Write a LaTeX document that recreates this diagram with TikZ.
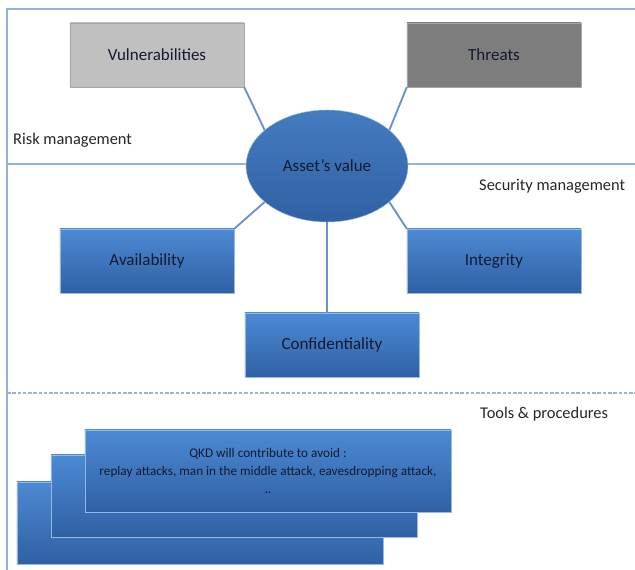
\documentclass[tikz,border=0pt]{standalone}
\usepackage{fontspec}
\setmainfont{Carlito}
\usepackage{xcolor}
\usetikzlibrary{shapes.geometric, shadows}

\definecolor{boxtop}{RGB}{76,138,212}
\definecolor{boxbot}{RGB}{48,96,164}
\definecolor{frameblue}{RGB}{149,179,215}
\definecolor{linkblue}{RGB}{104,146,204}
\definecolor{vulngray}{RGB}{192,192,192}
\definecolor{threatgray}{RGB}{125,125,125}
\definecolor{inktext}{RGB}{22,26,48}
\definecolor{sidetext}{RGB}{38,38,38}

\begin{document}
\begin{tikzpicture}[x=0.03cm, y=-0.03cm,
    block/.style={rectangle, draw=boxtop!60!white, top color=boxtop, bottom color=boxbot,
                  minimum width=5.22cm, minimum height=1.92cm, inner sep=0pt,
                  text=inktext, font=\fontsize{14.5}{16}\selectfont,
                  drop shadow={shadow xshift=0.6pt, shadow yshift=-1.2pt, opacity=0.25}},
    gblock/.style={block, draw=gray!70, top color=#1, bottom color=#1},
    stack/.style={block, minimum width=10.98cm, minimum height=2.46cm},
    asset/.style={ellipse, draw=boxtop!60!white, top color=boxtop!90!black, bottom color=boxbot,
                  minimum width=4.86cm, minimum height=3.36cm, inner sep=0pt,
                  text=inktext, font=\fontsize{14.5}{16}\selectfont},
    zone/.style={text=sidetext, font=\fontsize{14}{16}\selectfont, anchor=west, inner sep=0pt},
    frame/.style={frameblue, line width=1.4pt},
    link/.style={linkblue, line width=1.6pt},
]
\useasboundingbox (0,0) rectangle (635,570);
% frame and zones
\draw[frame] (7,570) -- (7,9) -- (635,9);
\draw[frame] (7,164) -- (635,164);
\draw[frame, dashed, dash pattern=on 3pt off 1.5pt] (7,393) -- (635,393);
\node[zone] (risk) at (13,140) {Risk management};
\node[zone] (secu) at (479,186) {Security management};
\node[zone] (tool) at (480,414) {Tools \& procedures};
% risk
\node[gblock=vulngray] (vul) at (157,55) {Vulnerabilities};
\node[gblock=threatgray] (thr) at (494,55) {Threats};
\node[asset] (val) at (327,166) {Asset's value};
% security
\node[block] (avl) at (147,261) {Availability};
\node[block] (itg) at (494,261) {Integrity};
\node[block] (cnf) at (332,345) {Confidentiality};
% tools
\node[stack] (st3) at (200,523) {};
\node[stack] (st2) at (234,496) {};
\node[stack, align=center, font=\fontsize{11.3}{15.5}\selectfont] (qkd) at (268,471)
    {QKD will contribute to avoid :\\replay attacks, man in the middle attack, eavesdropping attack,\\..};

% links
\draw[link] (vul.south east) -- (val.150);
\draw[link] (thr.south west) -- (val.30);
\draw[link] (val.210) -- (avl.north east);
\draw[link] (val.330) -- (itg.north west);
\draw[link] (val.south) -- (val.south |- cnf.north);
\end{tikzpicture}
\end{document}
